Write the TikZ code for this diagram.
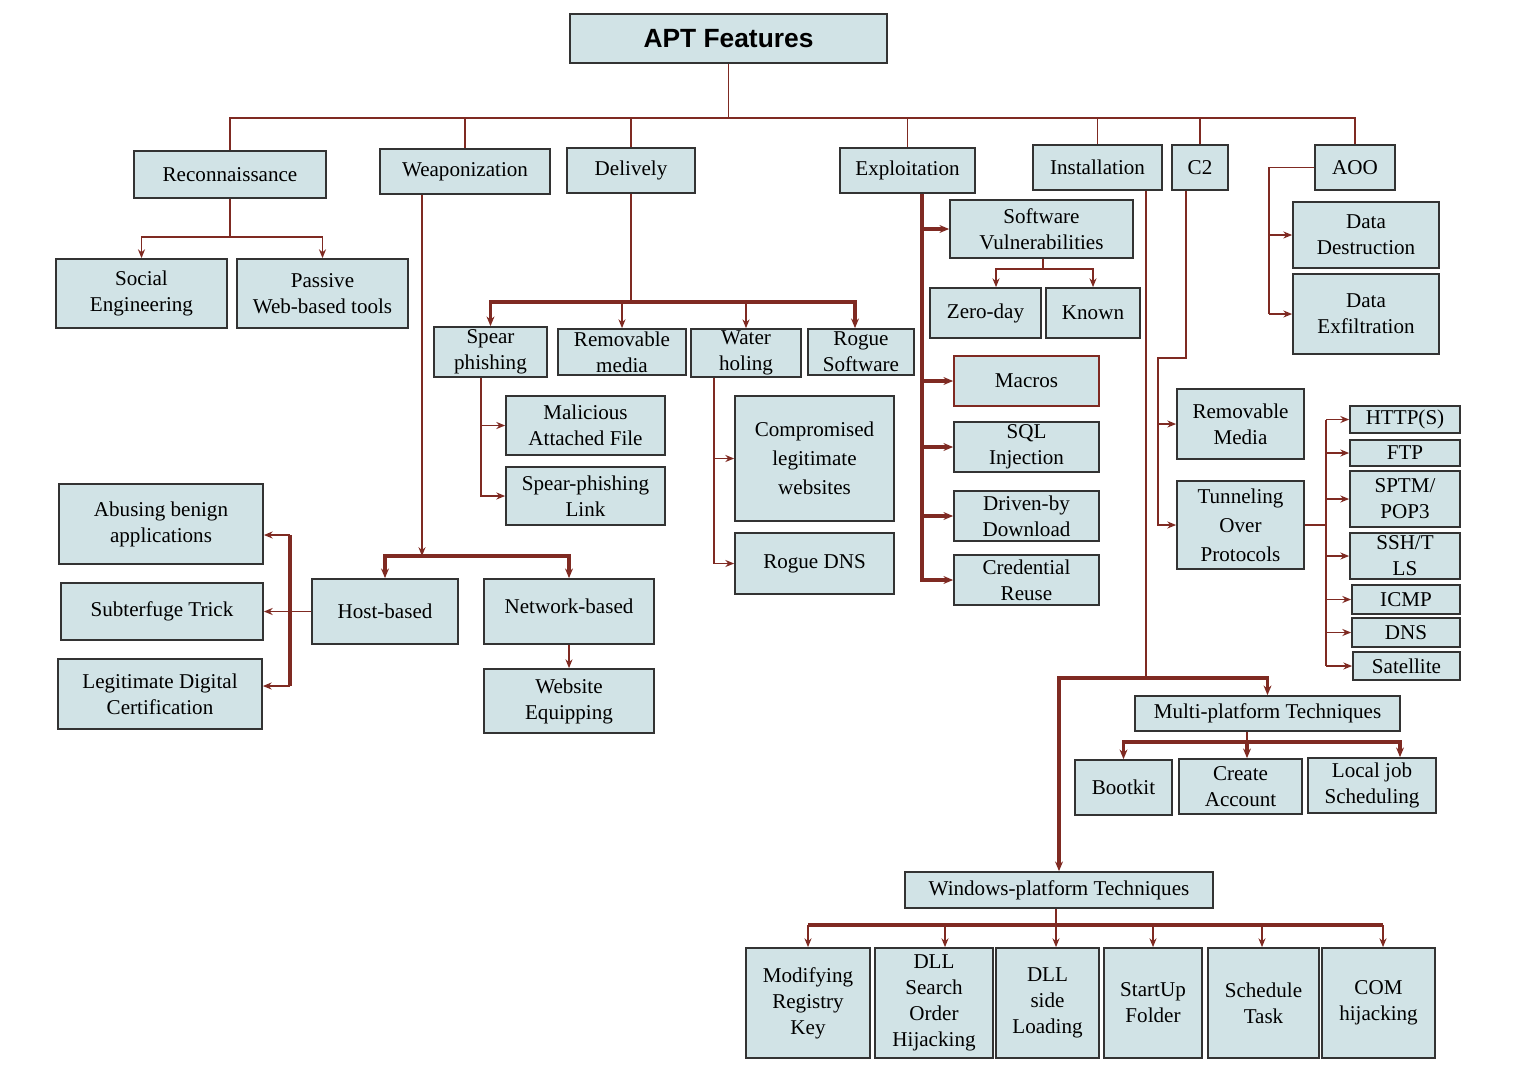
\documentclass[tikz,border=0pt]{standalone}
\usepackage{fontspec}
\setmainfont{Liberation Serif}
\newfontfamily\aptsans{Liberation Sans}
\usetikzlibrary{arrows.meta}
\definecolor{fillc}{HTML}{D1E3E6}
\definecolor{linec}{HTML}{7F2A22}
\definecolor{bordc}{HTML}{333333}
\begin{document}
\begin{tikzpicture}[x=0.02cm,y=-0.02cm,
 box/.style={draw=bordc, fill=fillc, line width=1pt, inner sep=1pt, align=center, font=\fontsize{12}{14.8}\selectfont},
 sz/.style 2 args={minimum width=#1*0.02cm, minimum height=#2*0.02cm},
 ln/.style={draw=linec, line width=1pt},
 thk/.style={draw=linec, line width=1.8pt},
 arr/.style={ln, -{Stealth[length=5pt,width=4pt]}},
 tarr/.style={thk, -{Stealth[length=5.5pt,width=4.5pt]}}]
\fill[white] (0,0) rectangle (1515,1072);
\useasboundingbox (0,0) rectangle (1515,1072);

% level 0
\node[box, sz={317}{49}, font=\aptsans\bfseries\fontsize{15}{18}\selectfont] (apt) at (728.5,38.5) {APT Features};

% level 1
\node[box, sz={192}{47}] (recon) at (230,174.5) {Reconnaissance};
\node[box, sz={170}{45}] (weap) at (465,171.5) {Weaponization};
\node[box, sz={128}{45}] (deliv) at (631,170.5) {Delively};
\node[box, sz={135}{45}] (expl) at (907.5,170.5) {Exploitation};
\node[box, sz={129}{45}] (inst) at (1097.5,167.5) {Installation};
\node[box, sz={56}{45}] (c2) at (1200,167.5) {C2};
\node[box, sz={80}{45}] (aoo) at (1355,167.5) {AOO};

% reconnaissance
\node[box, sz={171}{69}] (social) at (141.5,293.5) {Social\\Engineering};
\node[box, sz={171}{69}] (passive) at (322.5,293.5) {Passive\\Web-based tools};

% delivery
\node[box, sz={113}{50}] (spear) at (490.5,352) {Spear\\phishing};
\node[box, sz={128}{46}] (remov) at (622,352) {Removable\\media};
\node[box, sz={110}{46}] (water) at (746,353) {Water\\holing};
\node[box, sz={106}{46}] (rogue) at (861,352) {Rogue\\Software};
\node[box, sz={159}{59}] (mal) at (585.5,425.5) {Malicious\\Attached File};
\node[box, sz={159}{58}] (link) at (585.5,496) {Spear-phishing\\Link};
\node[box, sz={159}{125}, font=\fontsize{12}{16.5}\selectfont] (comp) at (814.5,458.5) {Compromised\\legitimate\\websites};
\node[box, sz={159}{61}] (rdns) at (814.5,563.5) {Rogue DNS};

% weaponization
\node[box, sz={146}{65}] (host) at (385,611.5) {Host-based};
\node[box, sz={170}{65}] (net) at (569,611.5) {\raisebox{6pt}{Network-based}};
\node[box, sz={170}{64}] (webeq) at (569,701) {Website\\Equipping};
\node[box, sz={204}{80}] (abuse) at (161,524) {Abusing benign\\applications};
\node[box, sz={202}{57}] (subt) at (162,611.5) {Subterfuge Trick};
\node[box, sz={204}{70}] (legit) at (160,694) {Legitimate Digital\\Certification};

% exploitation
\node[box, sz={183}{58}] (sv) at (1041.5,229) {Software\\Vulnerabilities};
\node[box, sz={111}{50}] (zero) at (985.5,313) {Zero-day};
\node[box, sz={94}{50}] (known) at (1093,313) {Known};
\node[box, sz={145}{50}, draw=linec] (macros) at (1026.5,381) {Macros};
\node[box, sz={145}{50}] (sql) at (1026.5,447) {SQL\\Injection};
\node[box, sz={145}{50}] (drive) at (1026.5,516) {Driven-by\\Download};
\node[box, sz={145}{50}] (cred) at (1026.5,580) {Credential\\Reuse};

% installation
\node[box, sz={265}{35}] (multi) at (1267.5,713.5) {Multi-platform Techniques};
\node[box, sz={97}{55}] (boot) at (1123.5,787.5) {Bootkit};
\node[box, sz={123}{55}] (create) at (1240.5,786.5) {Create\\Account};
\node[box, sz={128}{55}] (local) at (1372,785.5) {Local job\\Scheduling};
\node[box, sz={308}{36}] (win) at (1059,890) {Windows-platform Techniques};
\node[box, sz={124}{110}] (modreg) at (808,1003) {Modifying\\Registry\\Key};
\node[box, sz={118}{110}] (dllso) at (934,1003) {DLL\\Search\\Order\\Hijacking};
\node[box, sz={103}{110}] (dllside) at (1047.5,1003) {DLL\\side\\Loading};
\node[box, sz={98}{110}] (startup) at (1153,1003) {StartUp\\Folder};
\node[box, sz={111}{110}] (sched) at (1263.5,1003) {Schedule\\Task};
\node[box, sz={113}{110}] (com) at (1378.5,1003) {COM\\hijacking};

% C2
\node[box, sz={127}{70}] (cremov) at (1240.5,424) {Removable\\Media};
\node[box, sz={127}{88}, font=\fontsize{12}{16.5}\selectfont] (tunnel) at (1240.5,525) {Tunneling\\Over\\Protocols};
\node[box, sz={110}{27}] (http) at (1405,419.5) {HTTP(S)};
\node[box, sz={110}{26}] (ftp) at (1405,453) {FTP};
\node[box, sz={110}{56}] (sptm) at (1405,499) {SPTM/\\POP3};
\node[box, sz={110}{46}] (ssh) at (1405,556) {SSH/T\\LS};
\node[box, sz={108}{29}] (icmp) at (1406,599.5) {ICMP};
\node[box, sz={108}{29}] (dns) at (1406,632.5) {DNS};
\node[box, sz={107}{28}] (sat) at (1406.5,666) {Satellite};

% AOO
\node[box, sz={146}{66}] (destr) at (1366,235) {Data\\Destruction};
\node[box, sz={146}{80}] (exfil) at (1366,314) {Data\\Exfiltration};

% ---------- connectors ----------
\coordinate (tb) at (0,118);
\draw[ln] (apt.south) -- (apt.south |- tb);
\draw[ln] (recon.north) -- (recon.north |- tb) -- (aoo.north |- tb) -- (aoo.north);
\foreach \n in {weap,deliv,expl,inst,c2} \draw[ln] (\n.north) -- (\n.north |- tb);

% recon
\coordinate (rb) at (230,237);
\draw[ln] (recon.south) -- (rb);
\draw[arr] (rb) -| (social.north);
\draw[arr] (rb) -| (passive.north);

% delivery
\coordinate (db) at (631,302);
\draw[ln] (deliv.south) -- (db);
\draw[tarr] (db) -| (spear.north);
\draw[tarr] (db) -| (rogue.north -| 855,0);
\draw[arr] (db -| remov.north) -- (remov.north);
\draw[arr] (db -| water.north) -- (water.north);
\coordinate (sx) at (481,0);
\draw[arr] (spear.south -| sx) |- (link.west);
\draw[arr] (sx |- mal.west) -- (mal.west);
\coordinate (wh) at (714,0);
\draw[arr] (water.south -| wh) |- (rdns.west);
\draw[arr] (wh |- comp.west) -- (comp.west);

% weaponization
\coordinate (wx) at (422,556);
\draw[arr] (weap.south -| wx) -- (wx);
\draw[tarr] (wx) -| (host.north);
\draw[tarr] (wx) -| (net.north);
\draw[arr] (net.south) -- (webeq.north);
\coordinate (hb) at (290,0);
\draw[ln] (host.west) -- (host.west -| hb);
\draw[thk] (290,535) -- (290,686);
\draw[arr] (290,535) -- (abuse.east |- 0,535);
\draw[arr] (hb |- subt.east) -- (subt.east);
\draw[arr] (290,686) -- (legit.east |- 0,686);

% exploitation
\coordinate (ex) at (922,0);
\draw[tarr] (expl.south -| ex) |- (cred.west);
\foreach \n in {sv,macros,sql,drive} \draw[tarr] (ex |- \n.west) -- (\n.west);
\coordinate (svb) at (1043,269);
\draw[ln] (sv.south -| svb) -- (svb);
\draw[arr] (svb) -| (zero.north -| 996,0);
\draw[arr] (svb) -| (known.north);

% installation
\coordinate (ix) at (1146,678);
\draw[ln] (inst.south -| ix) -- (ix);
\draw[tarr] (ix) -| (multi.north);
\draw[tarr] (ix) -| (win.north);
\coordinate (mb) at (1247,742);
\draw[ln] (multi.south -| mb) -- (mb);
\draw[tarr] (mb) -| (boot.north);
\draw[tarr] (mb) -| (local.north -| 1400,0);
\draw[tarr] (mb) -- (create.north -| mb);
\coordinate (wb) at (1056,925);
\draw[ln] (win.south -| wb) -- (wb);
\draw[thk] (808,925) -- (1383,925);
\foreach \n/\x in {modreg/808, dllso/945, dllside/1056, startup/1153, sched/1262, com/1383}
  \draw[arr] (\x,925) -- (\n.north -| \x,0);

% C2
\coordinate (cx) at (1158,0);
\draw[arr] (c2.south -| 1186,0) -- (1186,358) -- (1158,358) |- (tunnel.west);
\draw[arr] (cx |- cremov.west) -- (cremov.west);
\coordinate (tx) at (1326,0);
\draw[ln] (tunnel.east) -- (tunnel.east -| tx);
\draw[ln] (tx |- http.west) -- (tx |- sat.west);
\foreach \n in {http,ftp,sptm,ssh,icmp,dns,sat} \draw[arr] (tx |- \n.west) -- (\n.west);

% AOO
\coordinate (ax) at (1269,0);
\draw[ln] (aoo.west) -| (ax |- exfil.west);
\draw[arr] (ax |- destr.west) -- (destr.west);
\draw[arr] (ax |- exfil.west) -- (exfil.west);
\end{tikzpicture}
\end{document}
